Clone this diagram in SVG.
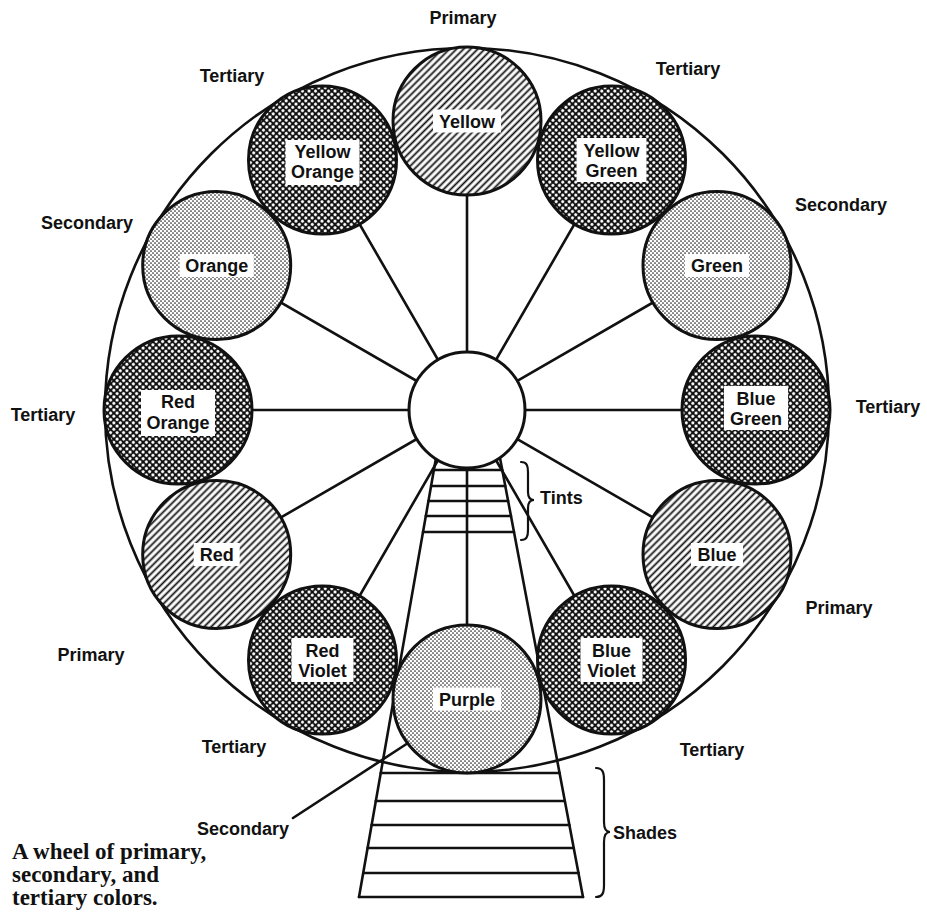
<svg xmlns="http://www.w3.org/2000/svg" width="927" height="912" viewBox="0 0 927 912">
  <style>
    .ink { fill: none; stroke: #111; stroke-width: 2.6; stroke-linecap: round; }
    .thin { fill: none; stroke: #111; stroke-width: 2.2; stroke-linecap: round; }
    .disc { stroke: #111; stroke-width: 3; }
    .primary { fill: url(#hatch); }
    .secondary { fill: url(#dots); }
    .tertiary { fill: url(#cross); }
    .box { fill: #fff; stroke: none; }
    .lbl { font-family: "Liberation Sans", Arial, sans-serif; font-weight: bold; font-size: 18px; fill: #111; text-anchor: middle; }
    .out { font-family: "Liberation Sans", Arial, sans-serif; font-weight: bold; font-size: 18px; fill: #111; text-anchor: middle; }
    .side { text-anchor: start; }
    .cap { font-family: "Liberation Serif", "Times New Roman", serif; font-weight: bold; font-size: 23px; fill: #111; }
  </style>
  <defs>
    <!-- diagonal line hatching for the primary colours -->
    <pattern id="hatch" width="5" height="5" patternUnits="userSpaceOnUse" patternTransform="rotate(-45)">
      <rect width="5" height="5" fill="#fff"/>
      <line x1="0" y1="2.5" x2="5" y2="2.5" stroke="#111" stroke-width="1.8"/>
    </pattern>
    <!-- fine stipple for the secondary colours -->
    <pattern id="dots" width="4" height="4" patternUnits="userSpaceOnUse">
      <rect width="4" height="4" fill="#fff"/>
      <circle cx="1" cy="1" r="0.85" fill="#222"/>
      <circle cx="3" cy="3" r="0.85" fill="#222"/>
    </pattern>
    <!-- dense cross-hatch for the tertiary colours -->
    <pattern id="cross" width="4.6" height="4.6" patternUnits="userSpaceOnUse" patternTransform="rotate(45)">
      <rect width="4.6" height="4.6" fill="#111"/>
      <circle cx="2.3" cy="2.3" r="1.55" fill="#fff"/>
    </pattern>
  </defs>

  <rect width="927" height="912" fill="#fff"/>

  <!-- outer rim of the wheel -->
  <circle id="rim" cx="467" cy="410" r="362" class="ink"/>

  <!-- spokes from the hub to each colour -->
  <g id="connectors" class="ink">
    <line x1="467" y1="410" x2="467" y2="121"/>
    <line x1="467" y1="410" x2="611.5" y2="160"/>
    <line x1="467" y1="410" x2="717" y2="265.5"/>
    <line x1="467" y1="410" x2="756" y2="410"/>
    <line x1="467" y1="410" x2="717" y2="554.5"/>
    <line x1="467" y1="410" x2="611.5" y2="660"/>
    <line x1="467" y1="410" x2="467" y2="699"/>
    <line x1="467" y1="410" x2="322.5" y2="660"/>
    <line x1="467" y1="410" x2="216.7" y2="554.5"/>
    <line x1="467" y1="410" x2="178" y2="410"/>
    <line x1="467" y1="410" x2="216.7" y2="265.5"/>
    <line x1="467" y1="410" x2="322.5" y2="160"/>
    <!-- leader from the bottom "Secondary" label -->
    <line x1="293" y1="818" x2="408" y2="743"/>
  </g>

  <!-- tint / shade ladder -->
  <g id="ladder" class="ink">
    <line x1="436" y1="458" x2="359" y2="897"/>
    <line x1="500" y1="458" x2="583" y2="897"/>
    <line x1="433.9" y1="470" x2="502.3" y2="470"/>
    <line x1="431.1" y1="486" x2="505.3" y2="486"/>
    <line x1="428.5" y1="501" x2="508.1" y2="501"/>
    <line x1="425.8" y1="516" x2="511" y2="516"/>
    <line x1="423" y1="532" x2="514" y2="532"/>
    <line x1="380.7" y1="773" x2="559.6" y2="773"/>
    <line x1="375.8" y1="801" x2="564.8" y2="801"/>
    <line x1="371.6" y1="825" x2="569.4" y2="825"/>
    <line x1="367.6" y1="848" x2="573.7" y2="848"/>
    <line x1="363.2" y1="873" x2="578.5" y2="873"/>
    <line x1="359" y1="897" x2="583" y2="897"/>
  </g>

  <!-- hub -->
  <g id="hub">
    <circle cx="467" cy="410" r="58" fill="#fff" class="disc"/>
  </g>

  <!-- secondary colours -->
  <g id="orange">
    <circle cx="216.7" cy="265.5" r="74" class="disc secondary"/>
    <rect x="179.7" y="254" width="74" height="23" class="box"/>
    <text x="216.7" y="272" class="lbl">Orange</text>
  </g>
  <g id="green">
    <circle cx="717" cy="265.5" r="74" class="disc secondary"/>
    <rect x="685" y="254" width="64" height="23" class="box"/>
    <text x="717" y="272" class="lbl">Green</text>
  </g>
  <g id="purple">
    <circle cx="467" cy="699" r="74" class="disc secondary"/>
    <rect x="433" y="687.5" width="68" height="23" class="box"/>
    <text x="467" y="705.5" class="lbl">Purple</text>
  </g>

  <!-- primary colours -->
  <g id="yellow">
    <circle cx="467" cy="121" r="74" class="disc primary"/>
    <rect x="433" y="109.5" width="68" height="23" class="box"/>
    <text x="467" y="127.5" class="lbl">Yellow</text>
  </g>
  <g id="blue">
    <circle cx="717" cy="554.5" r="74" class="disc primary"/>
    <rect x="691" y="543" width="52" height="23" class="box"/>
    <text x="717" y="561" class="lbl">Blue</text>
  </g>
  <g id="red">
    <circle cx="216.7" cy="554.5" r="74" class="disc primary"/>
    <rect x="193.7" y="543" width="46" height="23" class="box"/>
    <text x="216.7" y="561" class="lbl">Red</text>
  </g>

  <!-- tertiary colours -->
  <g id="yellow-green">
    <circle cx="611.5" cy="160" r="74" class="disc tertiary"/>
    <rect x="576.5" y="138" width="70" height="44" class="box"/>
    <text x="611.5" y="157" class="lbl">Yellow</text>
    <text x="611.5" y="177" class="lbl">Green</text>
  </g>
  <g id="blue-green">
    <circle cx="756" cy="410" r="74" class="disc tertiary"/>
    <rect x="724" y="386" width="64" height="44" class="box"/>
    <text x="756" y="405" class="lbl">Blue</text>
    <text x="756" y="425" class="lbl">Green</text>
  </g>
  <g id="blue-violet">
    <circle cx="611.5" cy="660" r="74" class="disc tertiary"/>
    <rect x="580.5" y="638" width="62" height="44" class="box"/>
    <text x="611.5" y="657" class="lbl">Blue</text>
    <text x="611.5" y="677" class="lbl">Violet</text>
  </g>
  <g id="red-violet">
    <circle cx="322.5" cy="660" r="74" class="disc tertiary"/>
    <rect x="291.5" y="638" width="62" height="44" class="box"/>
    <text x="322.5" y="657" class="lbl">Red</text>
    <text x="322.5" y="677" class="lbl">Violet</text>
  </g>
  <g id="red-orange">
    <circle cx="178" cy="410" r="74" class="disc tertiary"/>
    <rect x="141" y="390" width="74" height="46" class="box"/>
    <text x="178" y="408" class="lbl">Red</text>
    <text x="178" y="429" class="lbl">Orange</text>
  </g>
  <g id="yellow-orange">
    <circle cx="322.5" cy="160" r="74" class="disc tertiary"/>
    <rect x="285.5" y="140" width="74" height="45" class="box"/>
    <text x="322.5" y="158" class="lbl">Yellow</text>
    <text x="322.5" y="178" class="lbl">Orange</text>
  </g>

  <!-- braces for tints and shades -->
  <g id="braces" class="thin">
    <path d="M521,462 C527,462 528,466 528,472 L528,492 C528,497 530,500 534,500 C530,500 528,503 528,508 L528,530 C528,536 527,540 521,540"/>
    <path d="M596,768 C603,768 604,773 604,780 L604,822 C604,828 606,832 610,832 C606,832 604,836 604,842 L604,885 C604,892 603,897 596,897"/>
  </g>

  <!-- category labels around the rim -->
  <g id="labels">
    <text x="463" y="24" class="out">Primary</text>
    <text x="232" y="82" class="out">Tertiary</text>
    <text x="688" y="75" class="out">Tertiary</text>
    <text x="87" y="229" class="out">Secondary</text>
    <text x="841" y="211" class="out">Secondary</text>
    <text x="43" y="421" class="out">Tertiary</text>
    <text x="888" y="413" class="out">Tertiary</text>
    <text x="91" y="661" class="out">Primary</text>
    <text x="839" y="614" class="out">Primary</text>
    <text x="234" y="753" class="out">Tertiary</text>
    <text x="712" y="756" class="out">Tertiary</text>
    <text x="243" y="835" class="out">Secondary</text>
    <text x="540" y="504" class="out side">Tints</text>
    <text x="613" y="839" class="out side">Shades</text>
  </g>

  <!-- caption -->
  <g id="caption" class="cap">
    <text x="12" y="859">A wheel of primary,</text>
    <text x="12" y="882">secondary, and</text>
    <text x="12" y="905">tertiary colors.</text>
  </g>
</svg>
